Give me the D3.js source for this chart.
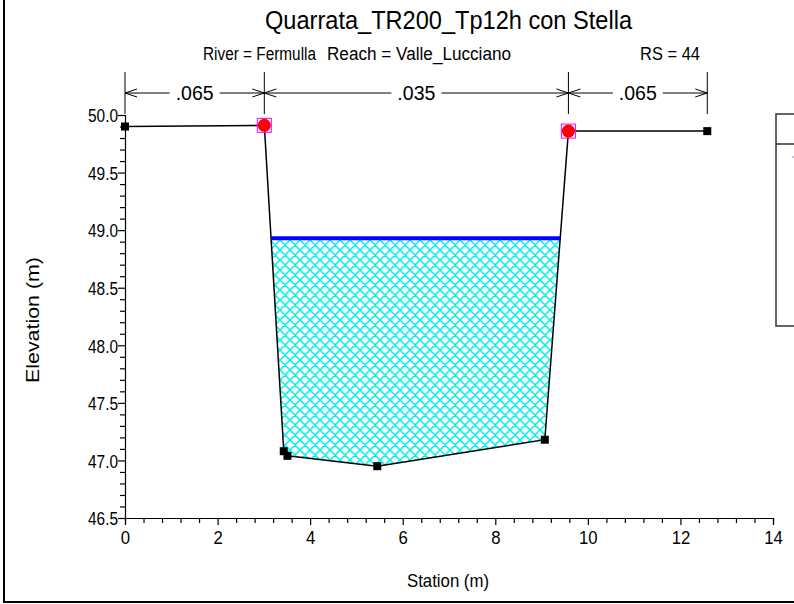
<!DOCTYPE html>
<html><head><meta charset="utf-8">
<script src="https://cdn.jsdelivr.net/npm/d3@7"></script>
<style>body{margin:0;background:#fff}svg{display:block;font-family:"Liberation Sans",Arial,sans-serif}</style>
</head><body>
<svg id="c" width="794" height="604"></svg>
<script>
// ---- data ----
const title = "Quarrata_TR200_Tp12h con Stella";
const subtitleParts = ["River = Fermulla", "Reach = Valle_Lucciano", "RS = 44"];
const groundStation = [0, 3.01, 3.43, 3.51, 5.45, 9.07, 9.58, 12.58];
const groundElev    = [49.90, 49.91, 47.08, 47.04, 46.95, 47.18, 49.86, 49.86];
const bankStation = [3.01, 9.58];
const bankElev = [49.91, 49.86];
const wsElev = 48.93;
const nValues = [".065", ".035", ".065"];
const nBreaks = [0, 3.01, 9.58, 12.58];
const xTicks = [0, 2, 4, 6, 8, 10, 12, 14];
const yTicks = [46.5, 47.0, 47.5, 48.0, 48.5, 49.0, 49.5, 50.0];

const svg = d3.select("#c");
const x = d3.scaleLinear().domain([0, 14]).range([125, 773]);
const y = d3.scaleLinear().domain([46.5, 50]).range([518, 115]);

// frame
svg.append("rect").attr("x", 4).attr("y", -10).attr("width", 820).attr("height", 612)
  .attr("fill", "none").attr("stroke", "#000").attr("stroke-width", 2);

// pattern
const P = 10;
const defs = svg.append("defs");
const pat = defs.append("pattern").attr("id", "hatch").attr("patternUnits", "userSpaceOnUse")
  .attr("width", P).attr("height", P);
pat.append("path").attr("d", `M-1,-1L${P+1},${P+1}M-1,${P+1}L${P+1},-1M${P-1},-1L${P+1},1M-1,${P-1}L1,${P+1}M${P-1},${P+1}L${P+1},${P-1}M-1,1L1,-1`)
  .attr("stroke", "#00f0f0").attr("stroke-width", 1.5).attr("fill", "none");

const ground = groundStation.map((s, i) => ({s, e: groundElev[i]}));

// water polygon
function crossings(level) {
  const pts = [];
  for (let i = 0; i < ground.length - 1; i++) {
    const a = ground[i], b = ground[i + 1];
    if ((a.e - level) * (b.e - level) < 0) {
      const t = (level - a.e) / (b.e - a.e);
      pts.push({s: a.s + t * (b.s - a.s), i});
    }
  }
  return pts;
}
const cr = crossings(wsElev);
const L = cr[0], R = cr[cr.length - 1];
const poly = [{s: L.s, e: wsElev}];
for (let i = L.i + 1; i <= R.i; i++) poly.push(ground[i]);
poly.push({s: R.s, e: wsElev});
svg.append("path").attr("d", d3.line().x(d => x(d.s)).y(d => y(d.e))(poly) + "Z")
  .attr("fill", "url(#hatch)").attr("stroke", "none");

// axes
const xAxis = d3.axisBottom(x).tickValues(xTicks).tickSize(7).tickFormat(d3.format("d"));
const xMinor = d3.axisBottom(x).tickValues(d3.range(0, 14.001, 0.4).filter(v => Math.abs(v/2 - Math.round(v/2)) > 0.01)).tickSize(5).tickFormat("");
const yAxis = d3.axisLeft(y).tickValues(yTicks).tickSize(7).tickFormat(d3.format(".1f"));
const yMinor = d3.axisLeft(y).tickValues(d3.range(46.5, 50.001, 0.1).filter(v => Math.abs(v*2 - Math.round(v*2)) > 0.01)).tickSize(5).tickFormat("");

function style(g) {
  g.selectAll("path.domain").attr("stroke", "#000").attr("stroke-width", 1.2);
  g.selectAll("line").attr("stroke", "#000").attr("stroke-width", 1.2);
  g.selectAll("text").attr("font-size", 19).attr("fill", "#000").attr("font-family", "Liberation Sans, Arial, sans-serif");
}
svg.append("g").attr("transform", "translate(0,518)").call(xMinor).call(style).select(".domain").remove();
svg.append("g").attr("transform", "translate(125,0)").call(yMinor).call(style).select(".domain").remove();
const gx = svg.append("g").attr("transform", "translate(0,518)").call(xAxis).call(style);
gx.selectAll("text").attr("dy", "0.85em").each(function() {
  const w = this.getComputedTextLength();
  d3.select(this).attr("textLength", w * 0.88).attr("lengthAdjust", "spacingAndGlyphs");
});
const gy = svg.append("g").attr("transform", "translate(125,0)").call(yAxis).call(style);
gy.selectAll("text").attr("textLength", 30).attr("lengthAdjust", "spacingAndGlyphs").attr("x", -7).attr("dy", "0.36em");

// axis titles
svg.append("text").attr("x", 448).attr("y", 587).attr("text-anchor", "middle").attr("font-size", 18.5)
  .attr("textLength", 82).attr("lengthAdjust", "spacingAndGlyphs").text("Station (m)");
svg.append("text").attr("transform", "translate(39,320) rotate(-90)").attr("text-anchor", "middle").attr("font-size", 18.5)
  .attr("textLength", 126).attr("lengthAdjust", "spacingAndGlyphs").text("Elevation (m)");

// title
svg.append("text").attr("x", 265).attr("y", 29).attr("font-size", 25)
  .attr("textLength", 367).attr("lengthAdjust", "spacingAndGlyphs").text(title);
const subX = [203, 327, 640];
const subW = [113, 184, 60];
subtitleParts.forEach((t, i) => svg.append("text").attr("x", subX[i]).attr("y", 60).attr("font-size", 18)
  .attr("textLength", subW[i]).attr("lengthAdjust", "spacingAndGlyphs").text(t));

// manning's n dimension lines
const dimY = 93;
const dg = svg.append("g").attr("stroke", "#000").attr("fill", "none").attr("stroke-width", 1);
nBreaks.forEach(s => dg.append("line").attr("x1", x(s)).attr("x2", x(s)).attr("y1", 72).attr("y2", 114));
function arrow(px, dir) { // dir -1 points left
  dg.append("path").attr("d", `M${px - dir*12},${dimY - 4}L${px},${dimY}L${px - dir*12},${dimY + 4}`);
}
nValues.forEach((v, i) => {
  const a = x(nBreaks[i]), b = x(nBreaks[i + 1]), m = (a + b) / 2;
  const t = svg.append("text").attr("x", m).attr("y", dimY + 7).attr("text-anchor", "middle").attr("font-size", 20)
    .attr("textLength", 38).attr("lengthAdjust", "spacingAndGlyphs").text(v);
  const w = 38;
  dg.append("line").attr("x1", a).attr("x2", m - w/2 - 6).attr("y1", dimY).attr("y2", dimY);
  dg.append("line").attr("x1", m + w/2 + 6).attr("x2", b).attr("y1", dimY).attr("y2", dimY);
  arrow(a, -1); arrow(b, 1);
});

// ground line
svg.append("path").attr("d", d3.line().x(d => x(d.s)).y(d => y(d.e))(ground))
  .attr("fill", "none").attr("stroke", "#000").attr("stroke-width", 1.5);

// water surface
svg.append("line").attr("x1", x(L.s)).attr("x2", x(R.s)).attr("y1", y(wsElev)).attr("y2", y(wsElev))
  .attr("stroke", "#0000ff").attr("stroke-width", 4);

// ground points
svg.selectAll("rect.gp").data(ground).join("rect").attr("class", "gp")
  .attr("x", d => x(d.s) - 4).attr("y", d => y(d.e) - 4).attr("width", 8).attr("height", 8).attr("fill", "#000");

// bank stations
bankStation.forEach((s, i) => {
  svg.append("rect").attr("x", x(s) - 7).attr("y", y(bankElev[i]) - 7).attr("width", 14).attr("height", 14)
    .attr("fill", "none").attr("stroke", "#ff00ff").attr("stroke-width", 1);
  svg.append("circle").attr("cx", x(s)).attr("cy", y(bankElev[i])).attr("r", 6.5).attr("fill", "#ff0000");
});

// legend (clipped)
svg.append("rect").attr("x", 776).attr("y", 114).attr("width", 40).attr("height", 212)
  .attr("fill", "#fff").attr("stroke", "#333").attr("stroke-width", 1.5);
svg.append("line").attr("x1", 776).attr("x2", 800).attr("y1", 144).attr("y2", 144).attr("stroke", "#333").attr("stroke-width", 1.5);
svg.append("line").attr("x1", 792).attr("x2", 800).attr("y1", 157).attr("y2", 157).attr("stroke", "#8080ff").attr("stroke-width", 1);
</script>
</body></html>
